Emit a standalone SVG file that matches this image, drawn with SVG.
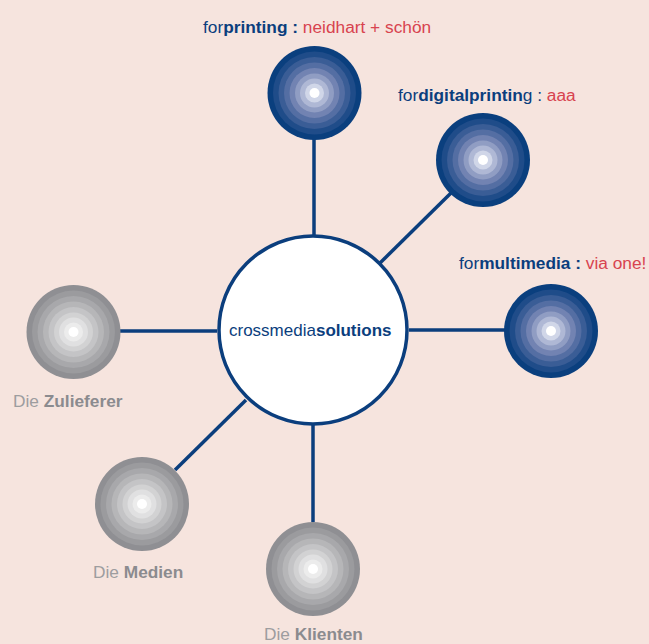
<svg xmlns="http://www.w3.org/2000/svg" width="649" height="644" viewBox="0 0 649 644">
<defs>
<style>
.bg{fill:#f6e4de}
.ln{stroke:#0b3e7d;stroke-width:3.5;fill:none}
.t{font-family:"Liberation Sans",Arial,sans-serif;font-size:17.3px}
.b{font-weight:bold}
.bl{fill:#0b3e7d}
.rd{fill:#d8434f}
.g1{fill:#9d9d9f}
.g2{fill:#8b8b8f}
.b1{fill:#0a3f7e}.b2{fill:#1f4c89}.b3{fill:#3a5d96}.b4{fill:#546ea3}.b5{fill:#7283b2}.b6{fill:#909dc3}.b7{fill:#afb8d5}.b8{fill:#d0d6e8}
.h1{fill:#8f8f93}.h2{fill:#9b9b9e}.h3{fill:#a8a8ab}.h4{fill:#b6b6b8}.h5{fill:#c4c4c6}.h6{fill:#d2d2d3}.h7{fill:#e0e0e1}.h8{fill:#ececec}
.w{fill:#ffffff}
</style>
<g id="blueDisc">
<circle r="47" class="b1"/><circle r="41.5" class="b2"/><circle r="36" class="b3"/><circle r="30.5" class="b4"/><circle r="25" class="b5"/><circle r="19.5" class="b6"/><circle r="14.5" class="b7"/><circle r="9.5" class="b8"/><circle r="5" class="w"/>
</g>
<g id="greyDisc">
<circle r="47" class="h1"/><circle r="41.5" class="h2"/><circle r="36" class="h3"/><circle r="30.5" class="h4"/><circle r="25" class="h5"/><circle r="19.5" class="h6"/><circle r="14.5" class="h7"/><circle r="9.5" class="h8"/><circle r="5" class="w"/>
</g>
</defs>
<rect class="bg" x="0" y="0" width="649" height="644"/>
<g id="connectors">
<line class="ln" x1="314" y1="139" x2="314" y2="236"/>
<line class="ln" x1="380" y1="263" x2="452" y2="192"/>
<line class="ln" x1="409" y1="330" x2="505" y2="330"/>
<line class="ln" x1="120" y1="331" x2="217" y2="331"/>
<line class="ln" x1="175" y1="470" x2="246" y2="400"/>
<line class="ln" x1="313" y1="424" x2="313" y2="522"/>
</g>
<g id="center">
<circle cx="313" cy="330" r="94" fill="#ffffff" stroke="#0b3e7d" stroke-width="3.5"/>
<text class="t bl" x="229" y="336" style="font-size:17px"><tspan>crossmedia</tspan><tspan class="b">solutions</tspan></text>
</g>
<g id="printing">
<use href="#blueDisc" x="314.5" y="93"/>
<text class="t" x="203" y="33"><tspan class="bl">for</tspan><tspan class="bl b">printing : </tspan><tspan class="rd">neidhart + schön</tspan></text>
</g>
<g id="digitalprinting">
<use href="#blueDisc" x="483" y="160"/>
<text class="t" x="398" y="101"><tspan class="bl">for</tspan><tspan class="bl b">digitalprintin</tspan><tspan class="bl">g : </tspan><tspan class="rd">aaa</tspan></text>
</g>
<g id="multimedia">
<use href="#blueDisc" x="551" y="331"/>
<text class="t" x="459" y="269"><tspan class="bl">for</tspan><tspan class="bl b">multimedia : </tspan><tspan class="rd">via one!</tspan></text>
</g>
<g id="zulieferer">
<use href="#greyDisc" x="73.5" y="332"/>
<text class="t" x="13" y="407"><tspan class="g1">Die </tspan><tspan class="g2 b">Zulieferer</tspan></text>
</g>
<g id="medien">
<use href="#greyDisc" x="142" y="504"/>
<text class="t" x="93" y="578"><tspan class="g1">Die </tspan><tspan class="g2 b">Medien</tspan></text>
</g>
<g id="klienten">
<use href="#greyDisc" x="313" y="569"/>
<text class="t" x="264" y="640"><tspan class="g1">Die </tspan><tspan class="g2 b">Klienten</tspan></text>
</g>
</svg>
